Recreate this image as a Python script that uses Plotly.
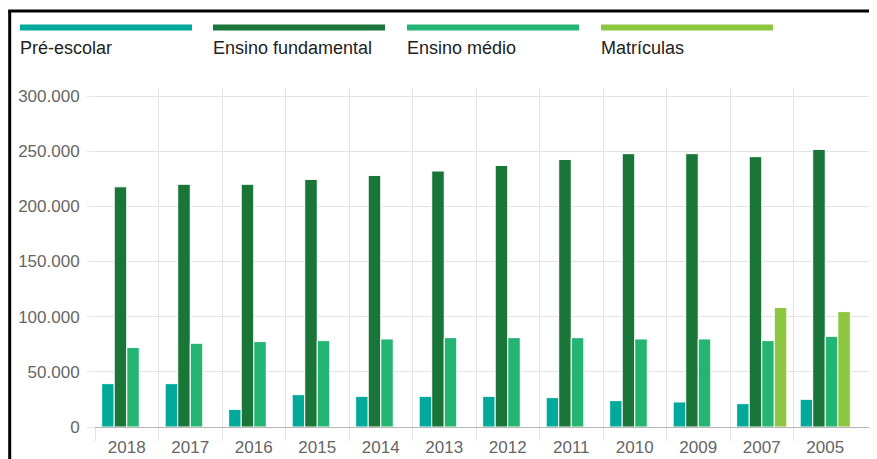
import plotly.graph_objects as go

# ---- data ----
years = ["2018", "2017", "2016", "2015", "2014", "2013", "2012", "2011", "2010", "2009", "2007", "2005"]
pre_escolar = [39300, 39300, 16000, 29300, 27800, 27800, 27800, 26600, 23900, 22700, 21200, 25100]
ensino_fundamental = [217700, 220000, 220000, 224400, 228000, 232000, 237000, 242500, 247700, 247700, 245000, 251600]
ensino_medio = [72000, 75900, 77400, 78300, 79800, 81000, 81000, 81000, 79800, 79800, 78300, 82200]
matriculas = [None, None, None, None, None, None, None, None, None, None, 108300, 104600]

series_names = ["Pré-escolar", "Ensino fundamental", "Ensino médio", "Matrículas"]
series_values = [pre_escolar, ensino_fundamental, ensino_medio, matriculas]
colors = ["#00a99a", "#1a7538", "#24b474", "#8dc63f"]

y_ticks = [0, 50000, 100000, 150000, 200000, 250000, 300000]

# ---- layout geometry (window pixels; page body has an 8px margin) ----
OFF = 8
WIN_W, WIN_H = 877, 459
W, H = WIN_W - OFF, WIN_H - OFF
L, R, T, B = 95, 877, 88, 427
CAT_W = 63.5


def px_x(x):
    return (x - L) / (R - L)


def px_y(y):
    return (B - y) / (B - T)


fig = go.Figure()
for name, vals, col in zip(series_names, series_values, colors):
    fig.add_trace(go.Bar(
        x=years, y=vals, name=name,
        marker=dict(color=col, line=dict(color="white", width=1)),
        showlegend=False,
    ))

x_max = len(years) - 0.5 + (R - (L + CAT_W * len(years))) / CAT_W

font_family = "Liberation Sans, Arial, sans-serif"

fig.update_layout(
    width=W, height=H,
    margin=dict(l=L - OFF, r=WIN_W - R, t=T - OFF, b=WIN_H - B, pad=0),
    paper_bgcolor="white", plot_bgcolor="white",
    separators=",.",
    barmode="group", bargap=0.21, bargroupgap=0,
    font=dict(family=font_family, color="#666666"),
    xaxis=dict(
        type="category", range=[-0.5, x_max],
        showgrid=False, zeroline=False, showline=False,
        ticks="", tickfont=dict(size=17, color="#666666"),
        ticklabelstandoff=8,
    ),
    xaxis2=dict(
        overlaying="x", anchor="y", range=[-0.5, x_max],
        tickmode="array", tickvals=[i - 0.5 for i in range(len(years))],
        showticklabels=False, showgrid=True, gridcolor="#e4e4e4", gridwidth=1,
        ticks="outside", ticklen=13, tickcolor="#e4e4e4", tickwidth=1,
        zeroline=False, showline=False,
    ),
    yaxis=dict(
        range=[0, 300000 * (B - T) / (B - 96)],
        tickmode="array", tickvals=y_ticks, tickformat=",d",
        showgrid=True, gridcolor="#e4e4e4", gridwidth=1,
        ticks="outside", ticklen=7, tickcolor="#e4e4e4",
        zeroline=True, zerolinecolor="#b5b5b5", zerolinewidth=1,
        showline=False,
        tickfont=dict(size=17, color="#666666"),
        ticklabelstandoff=4,
    ),
)

# invisible helper so the boundary grid axis renders
fig.add_trace(go.Scatter(x=[None], y=[None], xaxis="x2", yaxis="y", showlegend=False, hoverinfo="skip"))

# ---- custom legend (swatch bar above label) ----
sw_left = [20, 213, 407, 601]
sw_w = 172
for name, col, x0 in zip(series_names, colors, sw_left):
    fig.add_shape(type="rect", xref="paper", yref="paper",
                  x0=px_x(x0), x1=px_x(x0 + sw_w), y0=px_y(30.5), y1=px_y(24.5),
                  fillcolor=col, line=dict(width=0), layer="above")
    fig.add_annotation(xref="paper", yref="paper", x=px_x(x0), y=px_y(48),
                       xanchor="left", yanchor="middle", showarrow=False, xshift=-2,
                       text=name, font=dict(size=18, color="#222222", family=font_family))

# ---- outer frame (left and top edges visible) ----
fig.add_shape(type="line", xref="paper", yref="paper",
              x0=px_x(9.7), x1=px_x(9.7), y0=px_y(11), y1=px_y(480),
              line=dict(color="black", width=3), layer="above")
fig.add_shape(type="line", xref="paper", yref="paper",
              x0=px_x(8.2), x1=px_x(900), y0=px_y(11), y1=px_y(11),
              line=dict(color="black", width=3), layer="above")

fig.write_html("out.html")
